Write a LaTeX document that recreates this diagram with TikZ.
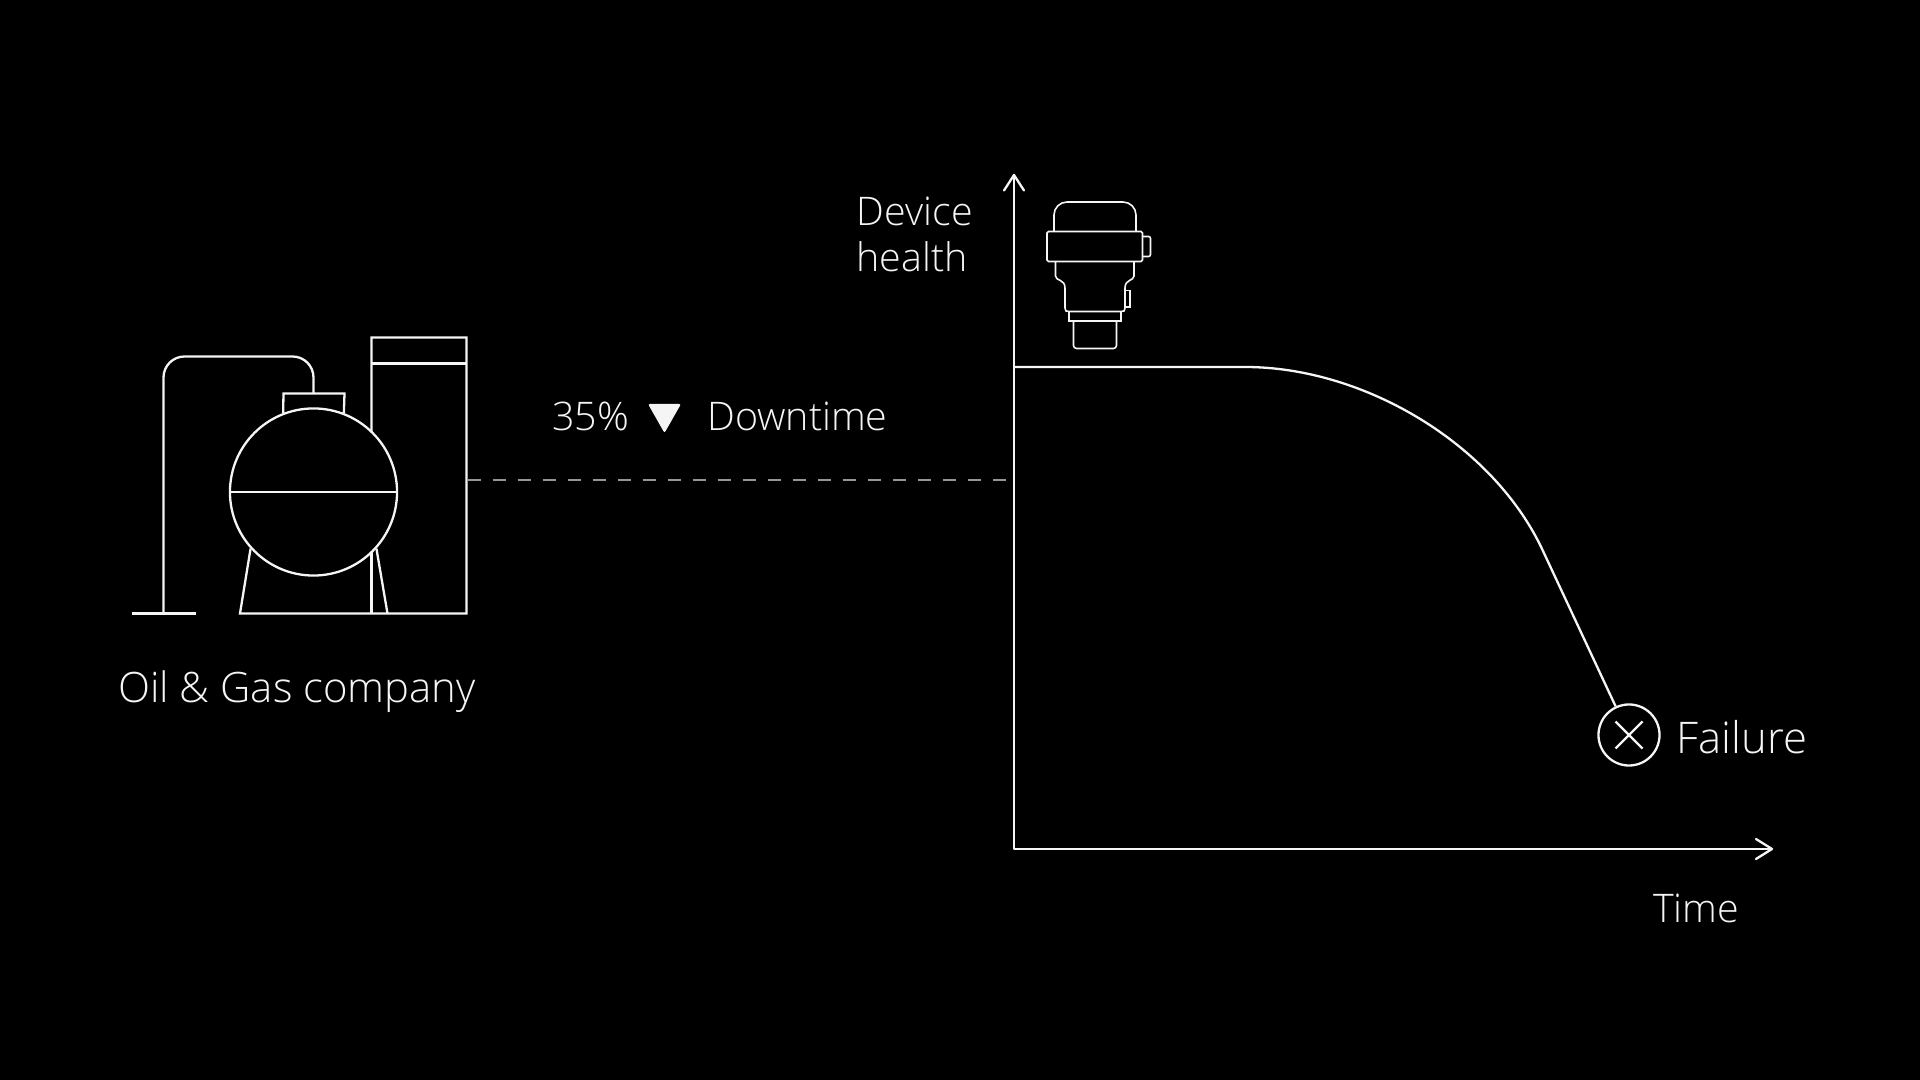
\documentclass[tikz,border=0pt]{standalone}
\usepackage{fontspec}
\setmainfont{Open Sans Light}
\usetikzlibrary{positioning}
\definecolor{bgblack}{RGB}{0,0,0}
\definecolor{linewhite}{RGB}{245,245,245}
\definecolor{dashgrey}{RGB}{150,150,150}
\tikzset{
  plantline/.style={draw=linewhite, line width=0.023cm},
  deviceline/.style={draw=linewhite, line width=0.016cm},
  label/.style={text=linewhite, inner sep=0pt, font=\fontsize{11.2pt}{13pt}\selectfont},
  biglabel/.style={label, font=\fontsize{11.9pt}{14pt}\selectfont},
  faillabel/.style={label, font=\fontsize{12.4pt}{14pt}\selectfont},
}
\begin{document}
\begin{tikzpicture}[x=0.01cm, y=-0.01cm]
\useasboundingbox[fill=bgblack] (0,0) rectangle (1920,1080);

% Plant
\node[circle, plantline, minimum size=1.67cm, inner sep=0pt] (tank) at (313.5,492) {};
\draw[plantline] (tank.west) -- (tank.east);
\draw[plantline] (tank.111) -- (283.5,393.5) -- (344.5,393.5) -- (tank.69);
\draw[plantline, rounded corners=0.21cm] (313.5,393.5) -- (313.5,356.5) -- (163.5,356.5) -- (163.5,613.5);
\draw[plantline] (131.5,613.5) -- (196,613.5);
\draw[plantline] (tank.222) -- (240,613.5) -- (466.5,613.5) -- (466.5,337.5) -- (371.5,337.5) -- (371.5,432);
\draw[plantline] (371.5,363.5) -- (466.5,363.5);
\draw[plantline] (371.5,552) -- (371.5,613.5);
\draw[plantline] (tank.318) -- (387.5,613.5);
\node[biglabel, anchor=base] (plantlabel) at (297,702.5) {Oil \& Gas company};

% Downtime
\coordinate (plantedge) at (467.5,480);
\coordinate (axisedge) at (1007,480);
\draw[draw=dashgrey, line width=0.02cm, dash pattern=on 0.13cm off 0.12cm] (plantedge) -- (axisedge);
\node[label, anchor=base] (percent) at (590.5,430.5) {35\%};
\fill[linewhite, rounded corners=0.02cm] (648,404) -- (681,404) -- (664.5,433) -- cycle;
\node[label, anchor=base west] (downtime) at (706.5,430.5) {Downtime};

% Axes
\coordinate (origin) at (1014,849);
\coordinate (ytop) at (1014,175);
\coordinate (xend) at (1772,849);
\draw[plantline, line join=round] (ytop) -- (origin) -- (xend);
\draw[plantline, line join=round, line cap=round] (1004,190.5) -- (ytop) -- (1024,190.5);
\draw[plantline, line join=round, line cap=round] (1756,839) -- (xend) -- (1756,859);
\node[label, anchor=base west] (ylabel) at (856,225.5) {Device};
\node[label, anchor=base west] (ylabeltwo) at (856,271.5) {health};
\node[label, anchor=base] (xlabel) at (1696,922.5) {Time};

% Device
\draw[deviceline, rounded corners=0.13cm] (1054,231.5) -- (1054,202) -- (1136,202) -- (1136,231.5);
\draw[deviceline, rounded corners=0.015cm] (1047,231.5) rectangle (1142.5,261.5);
\draw[deviceline, rounded corners=0.02cm] (1142.5,236.5) -- (1150.5,236.5) -- (1150.5,256.5) -- (1142.5,256.5);
\draw[deviceline] (1055.5,261.5) -- (1055.5,276) .. controls (1055.5,281) and (1065,279) .. (1065,288) -- (1065,308) .. controls (1065,311) and (1066,311.5) .. (1069,311.5) -- (1121,311.5) .. controls (1124,311.5) and (1125,311) .. (1125,308) -- (1125,288) .. controls (1125,279) and (1134,281) .. (1134,276) -- (1134,261.5);
\draw[deviceline] (1126,290.5) -- (1130,290.5) -- (1130,307) -- (1126,307);
\draw[deviceline] (1069,311.5) -- (1069,321) -- (1121,321) -- (1121,311.5);
\draw[deviceline, rounded corners=0.03cm] (1073.5,321) -- (1073.5,348.5) -- (1116.5,348.5) -- (1116.5,321);

% Health curve
\node[circle, plantline, minimum size=0.61cm, inner sep=0pt] (failmark) at (1629,735) {};
\draw[plantline] (failmark.center) ++(-13.5,-13.5) -- ++(27,27);
\draw[plantline] (failmark.center) ++(13.5,-13.5) -- ++(-27,27);
\coordinate (flatstart) at (1014,367);
\draw[plantline] (flatstart) -- (1245,367) .. controls (1365,367) and (1494,445) .. (1543,551) -- (failmark);
\node[faillabel, anchor=base west] (failure) at (1676,754) {Failure};
\end{tikzpicture}
\end{document}
